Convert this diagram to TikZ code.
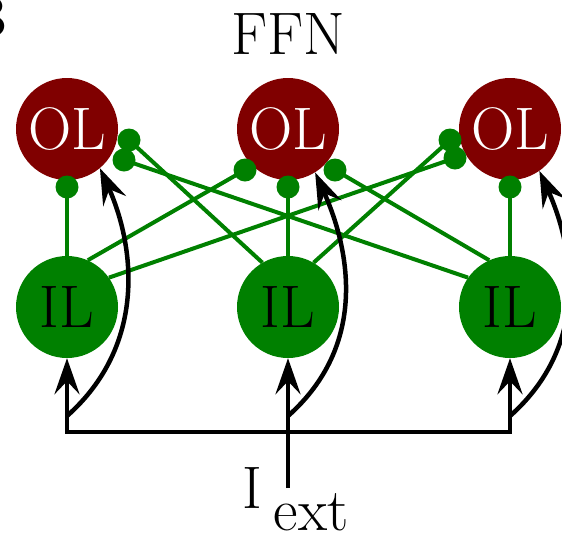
\documentclass[tikz,border=0pt]{standalone}
\usepackage{fontspec}
\usetikzlibrary{arrows.meta}
\definecolor{olred}{RGB}{128,0,0}
\definecolor{ilgreen}{RGB}{0,128,0}
\begin{document}
\begin{tikzpicture}[x=1pt,y=-1pt,
  big/.style={font=\fontsize{60}{66}\selectfont},
  olnode/.style={circle,fill=olred,minimum size=102pt,inner sep=0pt,text=white,big},
  ilnode/.style={circle,fill=ilgreen,minimum size=102pt,inner sep=0pt,text=black,big},
  syn/.style={draw=ilgreen,line width=4pt},
  dot/.style={circle,fill=ilgreen,minimum size=23pt,inner sep=0pt},
  wire/.style={draw=black,line width=4.5pt},
  >={Stealth[length=36pt,width=25pt,inset=13pt]}]
\useasboundingbox (0,0) rectangle (562,539);
\clip (0,0) rectangle (562,539);
% neurons
\node[olnode] (OL1) at (67,129) {OL};
\node[olnode] (OL2) at (288,129) {OL};
\node[olnode] (OL3) at (510,129) {OL};
\node[ilnode] (IL1) at (67,307) {IL};
\node[ilnode] (IL2) at (288,307) {IL};
\node[ilnode] (IL3) at (510,307) {IL};
% synapse positions
\coordinate (p1b) at (67,187);
\coordinate (p1u) at (129,140);
\coordinate (p1l) at (124,160);
\coordinate (p2l) at (245,170);
\coordinate (p2b) at (288,187);
\coordinate (p2r) at (335,170);
\coordinate (p3u) at (450,140);
\coordinate (p3l) at (455,158);
\coordinate (p3b) at (510,187);
% synapses
\draw[syn] (IL1.north) -- (p1b);
\draw[syn] (IL1.66) -- (p2l);
\draw[syn] (IL1.35) -- (p3l);
\draw[syn] (IL2.north) -- (p2b);
\draw[syn] (IL2.120) -- (p1u);
\draw[syn] (IL2.60) -- (p3u);
\draw[syn] (IL3.north) -- (p3b);
\draw[syn] (IL3.114) -- (p2r);
\draw[syn] (IL3.145) -- (p1l);
\foreach \p in {p1b,p1u,p1l,p2l,p2b,p2r,p3u,p3l,p3b}
  \node[dot] (D\p) at (\p) {};
% labels
\node[big] (FFN) at (288,34) {FFN};
\node[font=\fontsize{60}{66}\selectfont\bfseries,anchor=base east,inner sep=0pt] (lbl) at (9,37) {B};
\node[big,anchor=base west,inner sep=0pt] (Iext) at (242,508) {I\hspace{12pt}\raisebox{-22pt}{ext}};
% external input
\coordinate (b1) at (67,432);
\coordinate (b3) at (510,432);
\coordinate (e0) at (288,488);
\coordinate (c1) at (67,416);
\coordinate (c2) at (288,416);
\coordinate (c3) at (510,416);
\draw[wire,<->] (IL1.south) -- (b1) -- (b3) -- (IL3.south);
\draw[wire,->] (e0) -- (IL2.south);
\draw[wire,->] (c1) .. controls +(80,-71) and +(35,78) .. (OL1.-50);
\draw[wire,->] (c2) .. controls +(80,-71) and +(35,78) .. (OL2.-58);
\draw[wire,->] (c3) .. controls +(80,-71) and +(35,78) .. (OL3.-55);
\end{tikzpicture}
\end{document}
